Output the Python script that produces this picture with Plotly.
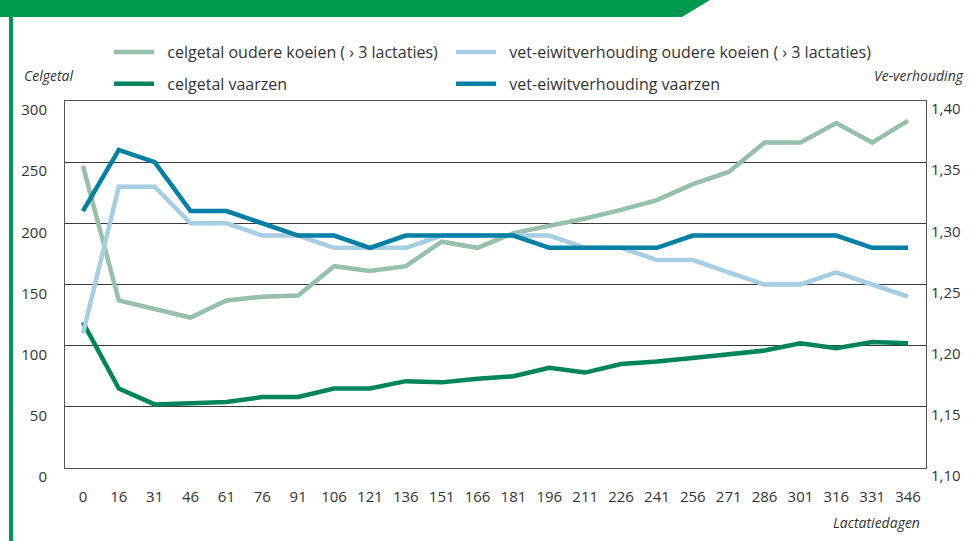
import plotly.graph_objects as go

days = ["0", "16", "31", "46", "61", "76", "91", "106", "121", "136", "151", "166",
        "181", "196", "211", "226", "241", "256", "271", "286", "301", "316", "331", "346"]

celgetal_oudere = [247, 137, 130, 123, 137, 140, 141, 165, 161, 165, 185, 180,
                   192, 198, 204, 211, 219, 232, 242, 266, 266, 282, 266, 284]
celgetal_vaarzen = [119, 65, 52, 53, 54, 58, 58, 65, 65, 71, 70, 73,
                    75, 82, 78, 85, 87, 90, 93, 96, 102, 98, 103, 102]
ve_oudere = [1.21, 1.33, 1.33, 1.30, 1.30, 1.29, 1.29, 1.28, 1.28, 1.28, 1.29, 1.29,
             1.29, 1.29, 1.28, 1.28, 1.27, 1.27, 1.26, 1.25, 1.25, 1.26, 1.25, 1.24]
ve_vaarzen = [1.31, 1.36, 1.35, 1.31, 1.31, 1.30, 1.29, 1.29, 1.28, 1.29, 1.29, 1.29,
              1.29, 1.28, 1.28, 1.28, 1.28, 1.29, 1.29, 1.29, 1.29, 1.29, 1.28, 1.28]

left_ticks = [0, 50, 100, 150, 200, 250, 300]
right_ticks = [1.10, 1.15, 1.20, 1.25, 1.30, 1.35, 1.40]

C_SAGE = "#96C0AA"
C_GREEN = "#00845C"
C_LBLUE = "#A6CDE2"
C_TEAL = "#0080A4"
BANNER = "#009A4E"
FONT = "Open Sans"
TXT = "#333333"

W, H = 975, 541
L, R, T, B = 65, 926, 101, 468


def px(x):
    return (x - L) / (R - L)


def py(y):
    return (B - y) / (B - T)


NB = "\u00a0\u00a0"

fig = go.Figure()
fig.add_trace(go.Scatter(x=days, y=celgetal_oudere, mode="lines", name=NB + "celgetal oudere koeien ( › 3 lactaties)",
                         line=dict(color=C_SAGE, width=4.5), legend="legend", legendgroup="a"))
fig.add_trace(go.Scatter(x=days, y=celgetal_vaarzen, mode="lines", name=NB + "celgetal vaarzen",
                         line=dict(color=C_GREEN, width=4.5), legend="legend", legendgroup="b"))
fig.add_trace(go.Scatter(x=days, y=ve_oudere, mode="lines", name=NB + "vet-eiwitverhouding oudere koeien ( › 3 lactaties)",
                         line=dict(color=C_LBLUE, width=4.5), yaxis="y2", legend="legend2", legendgroup="c"))
fig.add_trace(go.Scatter(x=days, y=ve_vaarzen, mode="lines", name=NB + "vet-eiwitverhouding vaarzen",
                         line=dict(color=C_TEAL, width=4.5), yaxis="y2", legend="legend2", legendgroup="d"))

fig.update_layout(
    width=W, height=H,
    margin=dict(l=L, r=W - R, t=T, b=H - B, autoexpand=False),
    paper_bgcolor="white", plot_bgcolor="white",
    separators=",.",
    font=dict(family=FONT, size=15, color=TXT),
    xaxis=dict(type="category", range=[-0.5, 23.5], showgrid=False, zeroline=False,
               showline=True, linecolor="#555555", linewidth=1, mirror=True, automargin=False,
               ticks="", ticklabelstandoff=15, tickfont=dict(size=15, color=TXT)),
    yaxis=dict(range=[0, 300], tickvals=left_ticks, showgrid=True, gridcolor="#3a3a3a", gridwidth=1,
               zeroline=False, showline=True, linecolor="#555555", linewidth=1, mirror=True,
               automargin=False, ticks="", ticklabelstandoff=14, ticklabelshift=9,
               tickfont=dict(size=15, color=TXT)),
    yaxis2=dict(range=[1.10, 1.40], tickvals=right_ticks, tickformat=".2f", overlaying="y", side="right",
                showgrid=False, zeroline=False, showline=False, ticks="", ticklabelstandoff=4,
                automargin=False, ticklabelshift=8, tickfont=dict(size=15, color=TXT)),
    legend=dict(x=px(109), y=py(35), xanchor="left", yanchor="top", orientation="v",
                bgcolor="rgba(0,0,0,0)", font=dict(size=16, color=TXT), tracegroupgap=8,
                itemwidth=40),
    legend2=dict(x=px(451), y=py(35), xanchor="left", yanchor="top", orientation="v",
                 bgcolor="rgba(0,0,0,0)", font=dict(size=16, color=TXT), tracegroupgap=8,
                 itemwidth=40),
    showlegend=True,
)

fig.add_annotation(text="<i>Celgetal</i>", x=px(22), y=py(75), xref="paper", yref="paper",
                   xanchor="left", yanchor="middle", showarrow=False, font=dict(size=14, color=TXT))
fig.add_annotation(text="<i>Ve-verhouding</i>", x=px(966), y=py(75), xref="paper", yref="paper",
                   xanchor="right", yanchor="middle", showarrow=False, font=dict(size=14, color=TXT))
fig.add_annotation(text="<i>Lactatiedagen</i>", x=px(922), y=py(522), xref="paper", yref="paper",
                   xanchor="right", yanchor="middle", showarrow=False, font=dict(size=14, color=TXT))

# green banner and side bar
fig.add_shape(type="path", xref="paper", yref="paper",
              path=f"M {px(0)} {py(0)} L {px(710)} {py(0)} L {px(682)} {py(17)} L {px(0)} {py(17)} Z",
              fillcolor=BANNER, line=dict(width=0), layer="above")
fig.add_shape(type="rect", xref="paper", yref="paper",
              x0=px(9), x1=px(13), y0=py(541), y1=py(16),
              fillcolor=BANNER, line=dict(width=0), layer="above")

fig.write_html("out.html", config={"displayModeBar": False},
               post_script="document.body.style.margin='0';document.body.style.padding='0';")
